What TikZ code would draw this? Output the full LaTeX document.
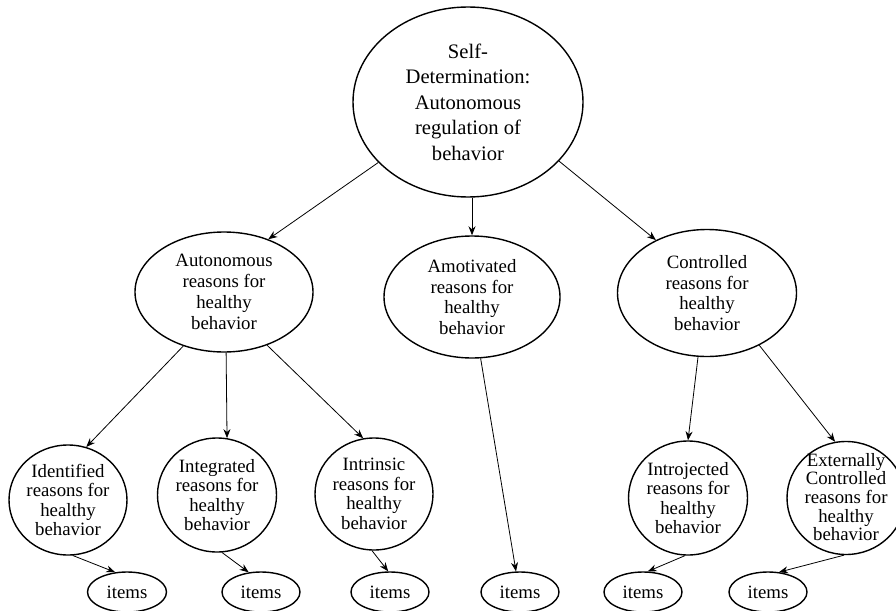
\documentclass[tikz,border=0pt]{standalone}
\usepackage{fontspec}
\setmainfont{Liberation Serif}
\usetikzlibrary{shapes.geometric,arrows.meta}
\begin{document}
\begin{tikzpicture}[x=1pt,y=-1pt,
  ell/.style={ellipse,draw,line width=1.4pt,inner sep=0pt,align=center,
    font=\fontsize{18.8}{19.5}\selectfont},
  mid/.style={font=\fontsize{18.8}{20.8}\selectfont},
  sz/.style 2 args={minimum width=#1,minimum height=#2},
  txt/.style={inner sep=0pt,align=center,font=\fontsize{18.8}{18.7}\selectfont},
  arr/.style={-{Stealth[length=9pt,width=7pt]},line width=0.8pt}]
\useasboundingbox (0,0) rectangle (896,610);
% top
\node[ell,sz={230pt}{190pt},font=\fontsize{20.6}{25.5}\selectfont] (top) at (468,102)
  {Self-\\Determination:\\Autonomous\\regulation of\\behavior};
% level 2
\node[ell,mid,sz={178pt}{120pt}] (auto) at (224,292) {Autonomous\\reasons for\\healthy\\behavior};
\node[ell,mid,sz={176pt}{122pt}] (amo) at (472,297) {Amotivated\\reasons for\\healthy\\behavior};
\node[ell,mid,sz={179pt}{127pt}] (ctrl) at (707,293) {Controlled\\reasons for\\healthy\\behavior};
% level 3
\node[ell,sz={118pt}{110pt}] (ident) at (68,500) {Identified\\reasons for\\healthy\\behavior};
\node[ell,sz={119pt}{114pt}] (integ) at (217,495) {Integrated\\reasons for\\healthy\\behavior};
\node[ell,sz={118pt}{112pt}] (intr) at (374,494) {Intrinsic\\reasons for\\healthy\\behavior};
\node[ell,sz={119pt}{114pt}] (intro) at (688,498) {Introjected\\reasons for\\healthy\\behavior};
\node[ell,sz={118pt}{113pt}] (ext) at (846,498) {};
\node[txt] (exttext) at (846,497) {Externally\\Controlled\\reasons for\\healthy\\behavior};
% items
\node[ell,sz={79pt}{40pt}] (it1) at (127,592) {items};
\node[ell,sz={78pt}{40pt}] (it2) at (261,592) {items};
\node[ell,sz={78pt}{40pt}] (it3) at (390,592) {items};
\node[ell,sz={78pt}{40pt}] (it4) at (520,592) {items};
\node[ell,sz={78pt}{40pt}] (it5) at (643,592) {items};
\node[ell,sz={78pt}{40pt}] (it6) at (768,592) {items};
% arrows
\draw[arr] (top.214) -- (auto.50);
\draw[arr] (top.south -| amo.north) -- (amo.north);
\draw[arr] (top.-33) -- (ctrl.134);
\draw[arr] (auto.-127) -- (ident.71);
\draw[arr] (auto.-88) -- (integ.80);
\draw[arr] (auto.-51) -- (intr.101);
\draw[arr] (amo.-82) -- (it4.101);
\draw[arr] (ctrl.-98) -- (intro.90);
\draw[arr] (ctrl.-45) -- (ext.101);
\draw[arr] (ident.-85) -- (it1.121);
\draw[arr] (integ.-85) -- (it2.122);
\draw[arr] (intr.-92) -- (it3.95);
\draw[arr] (intro.-93) -- (it5.77);
\draw[arr] (ext.-92) -- (it6.61);
\end{tikzpicture}
\end{document}
